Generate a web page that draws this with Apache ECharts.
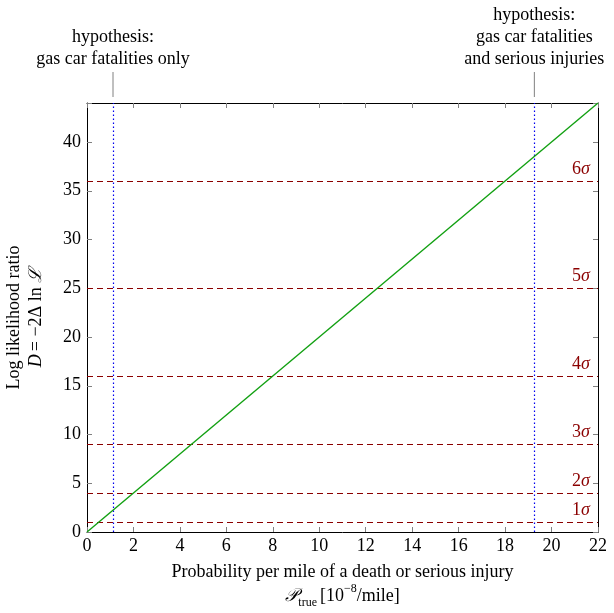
<!DOCTYPE html>
<html><head><meta charset="utf-8">
<script src="https://cdn.jsdelivr.net/npm/echarts@6/dist/echarts.min.js"></script>
<style>html,body{margin:0;padding:0;background:#fff}#c{width:614px;height:613px}</style>
</head><body><div id="c"></div>
<script>
// Data
const pTrue = [0, 22];
const logLR = [0, 44];
const sigmaNames = ['1σ', '2σ', '3σ', '4σ', '5σ', '6σ'];
const sigmaLevels = [1, 4, 9, 16, 25, 36];
const hypothesisX = [1.12, 19.26];
const hypothesisLabels = ['hypothesis:\ngas car fatalities only', 'hypothesis:\ngas car fatalities\nand serious injuries'];

const FONT = 'Liberation Serif';
const FS = 18;
const RED = '#8b0000';
const chart = echarts.init(document.getElementById('c'));

const sigmaLines = sigmaLevels.map((v, i) => ({
  yAxis: v,
  label: {
    formatter: '{n|' + sigmaNames[i].replace('σ', '') + '}{s|σ}',
    rich: {
      n: { fontFamily: FONT, fontSize: FS, color: RED },
      s: { fontFamily: FONT, fontSize: FS, color: RED, fontStyle: 'italic' }
    }
  }
}));

const axisCommon = {
  axisLine: { show: true, onZero: false, lineStyle: { color: '#000', width: 1 } },
  axisTick: { show: true, inside: true, length: 5, lineStyle: { color: '#808080' } },
  splitLine: { show: false }
};

const option = {
  animation: false,
  grid: { left: 87, right: 16, top: 103, bottom: 81, containLabel: false, outerBoundsMode: 'none' },
  xAxis: [Object.assign({
    type: 'value', min: 0, max: 22, interval: 2, position: 'bottom',
    name: '{a|Probability per mile of a death or serious injury}\n{p|𝒫}{sub|true} {a|[10}{sup|−8}{a|/mile]}',
    nameLocation: 'middle', nameGap: 29,
    nameTextStyle: {
      fontFamily: FONT, color: '#000', lineHeight: 22,
      rich: {
        a: { fontFamily: FONT, fontSize: FS, color: '#000', lineHeight: 22 },
        p: { fontFamily: FONT, fontSize: FS, color: '#000', fontStyle: 'italic', lineHeight: 22 },
        sub: { fontFamily: FONT, fontSize: 12, color: '#000', verticalAlign: 'bottom', lineHeight: 18 },
        sup: { fontFamily: FONT, fontSize: 12, color: '#000', verticalAlign: 'top', lineHeight: 26 }
      }
    },
    axisLabel: { fontFamily: FONT, fontSize: FS, color: '#000', margin: 5 }
  }, axisCommon), Object.assign({
    type: 'value', position: 'top', min: 0, max: 22, interval: 2,
    axisLabel: { show: false }
  }, axisCommon)],
  yAxis: [Object.assign({
    type: 'value', min: 0, max: 44, interval: 5, position: 'left',
    name: '{a|Log likelihood ratio}\n{i|D} {a|= −2Δ ln }{i|ℒ}',
    nameLocation: 'middle', nameGap: 40,
    nameTextStyle: {
      fontFamily: FONT, color: '#000', lineHeight: 22,
      rich: {
        a: { fontFamily: FONT, fontSize: FS, color: '#000', lineHeight: 22 },
        i: { fontFamily: FONT, fontSize: FS, color: '#000', fontStyle: 'italic', lineHeight: 22 }
      }
    },
    axisLabel: { fontFamily: FONT, fontSize: FS, color: '#000', margin: 6,
      formatter: v => (v % 5 === 0 ? String(v) : '') }
  }, axisCommon), Object.assign({
    type: 'value', position: 'right', min: 0, max: 44, interval: 5,
    axisLabel: { show: false }
  }, axisCommon)],
  series: [{
    type: 'line',
    data: pTrue.map((x, i) => [x, logLR[i]]),
    showSymbol: false, symbol: 'none',
    lineStyle: { color: '#12a012', width: 1.4 },
    z: 5,
    markLine: {
      silent: true, symbol: 'none',
      lineStyle: { color: RED, type: [6, 4], width: 1 },
      label: { position: 'insideEndTop', distance: [8, 3] },
      data: sigmaLines
    }
  }, {
    type: 'line', data: [], showSymbol: false,
    markLine: {
      silent: true, symbol: 'none',
      lineStyle: { color: '#0000ee', type: [1.5, 2.5], width: 1.2 },
      label: { show: false },
      data: hypothesisX.map(x => ({ xAxis: x }))
    }
  }]
};
chart.setOption(option);

// annotations above the plot, positioned through the axis scale
const graphics = [];
hypothesisX.forEach((x, i) => {
  const px = chart.convertToPixel({ xAxisIndex: 0 }, x);
  const top = chart.convertToPixel({ yAxisIndex: 0 }, 44);
  graphics.push({
    type: 'line', shape: { x1: px, y1: top - 6, x2: px, y2: top - 31 },
    style: { stroke: '#808080', lineWidth: 1 }
  });
  graphics.push({
    type: 'text', x: px, y: top - 33,
    style: { text: hypothesisLabels[i], fontFamily: FONT, fontSize: FS, fill: '#000',
      align: 'center', verticalAlign: 'bottom', lineHeight: 22 }
  });
});
chart.setOption({ graphic: graphics });
</script>
</body></html>
